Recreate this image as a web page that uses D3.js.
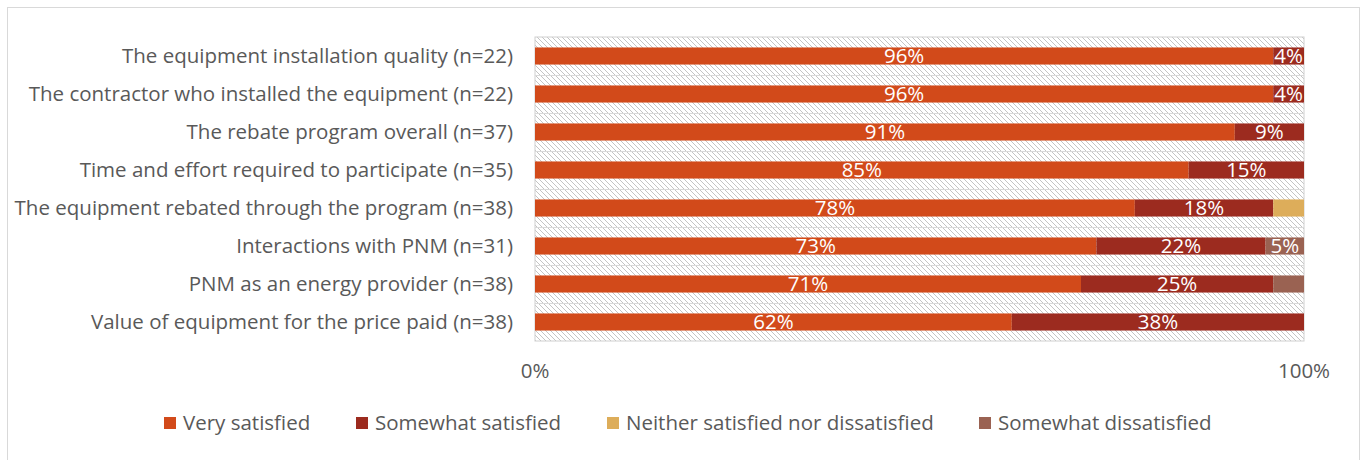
<!DOCTYPE html>
<html>
<head>
<meta charset="utf-8">
<script src="https://cdn.jsdelivr.net/npm/d3@7"></script>
<style>
  body { margin: 0; background: #fff; }
  svg { font-family: "Open Sans", Roboto, sans-serif; }
</style>
</head>
<body>
<svg id="chart" width="1361" height="460"></svg>
<script>
// Categories, top to bottom
const categories = [
  "The equipment installation quality (n=22)",
  "The contractor who installed the equipment (n=22)",
  "The rebate program overall (n=37)",
  "Time and effort required to participate (n=35)",
  "The equipment rebated through the program (n=38)",
  "Interactions with PNM (n=31)",
  "PNM as an energy provider (n=38)",
  "Value of equipment for the price paid (n=38)"
];
const seriesNames = ["Very satisfied", "Somewhat satisfied", "Neither satisfied nor dissatisfied", "Somewhat dissatisfied"];
const verySatisfied = [96, 96, 91, 85, 78, 73, 71, 62];
const somewhatSatisfied = [4, 4, 9, 15, 18, 22, 25, 38];
const neither = [0, 0, 0, 0, 4, 0, 0, 0];
const somewhatDissatisfied = [0, 0, 0, 0, 0, 5, 4, 0];
const tickLabels = ["0%", "100%"];
const colors = ["#d24a1a", "#9c2b1f", "#ddad5a", "#9a6252"];

const svg = d3.select("#chart");
const margin = { left: 535, top: 37, width: 769, height: 304 };
const fontSize = 20.5;

// outer frame
svg.append("rect").attr("x", 7.5).attr("y", 7.5).attr("width", 1352).attr("height", 470)
  .attr("fill", "none").attr("stroke", "#d9d9d9");

// hatch pattern for plot background
const defs = svg.append("defs");
const pat = defs.append("pattern").attr("id", "hatch").attr("patternUnits", "userSpaceOnUse")
  .attr("width", 5).attr("height", 5);
pat.append("rect").attr("width", 5).attr("height", 5).attr("fill", "#fff");
pat.append("path").attr("d", "M0,0 L5,5 M-1,4 L1,6 M4,-1 L6,1")
  .attr("stroke", "#c4c4c4").attr("stroke-width", 1);

const rows = categories.map((c, i) => ({
  cat: c,
  "Very satisfied": verySatisfied[i],
  "Somewhat satisfied": somewhatSatisfied[i],
  "Neither satisfied nor dissatisfied": neither[i],
  "Somewhat dissatisfied": somewhatDissatisfied[i]
}));

const x = d3.scaleLinear().domain([0, 100]).range([margin.left, margin.left + margin.width]);
const y = d3.scaleBand().domain(categories).range([margin.top, margin.top + margin.height])
  .paddingInner(0.55).paddingOuter(0.275);
const color = d3.scaleOrdinal().domain(seriesNames).range(colors);

// plot background
svg.append("rect").attr("x", x(0)).attr("y", margin.top).attr("width", margin.width).attr("height", margin.height)
  .attr("fill", "url(#hatch)").attr("stroke", "#d0d0d0");

// separators between bands
const step = y.step();
svg.append("g").selectAll("line").data(d3.range(1, categories.length)).join("line")
  .attr("x1", x(0)).attr("x2", x(100))
  .attr("y1", d => margin.top + d * step + 0.5).attr("y2", d => margin.top + d * step + 0.5)
  .attr("stroke", "#d9d9d9");

const stacked = d3.stack().keys(seriesNames)(rows);

const groups = svg.append("g").selectAll("g").data(stacked).join("g")
  .attr("fill", d => color(d.key));
groups.selectAll("rect").data(d => d).join("rect")
  .attr("x", d => x(d[0])).attr("width", d => x(d[1]) - x(d[0]))
  .attr("y", d => y(d.data.cat)).attr("height", y.bandwidth());

// value labels (only shown when segment is big enough)
const labelG = svg.append("g").attr("fill", "#fff").attr("font-size", fontSize).attr("text-anchor", "middle");
stacked.forEach(s => {
  s.forEach(d => {
    const v = d[1] - d[0];
    if (v >= 5 || (v >= 4 && s.key === "Somewhat satisfied")) {
      labelG.append("text")
        .attr("x", (x(d[0]) + x(d[1])) / 2)
        .attr("y", y(d.data.cat) + y.bandwidth() / 2)
        .attr("dy", "0.36em")
        .text(v + "%");
    }
  });
});

// category labels
svg.append("g").selectAll("text").data(categories).join("text")
  .attr("x", 513).attr("y", d => y(d) + y.bandwidth() / 2).attr("dy", "0.36em")
  .attr("text-anchor", "end").attr("font-size", fontSize).attr("fill", "#595959")
  .text(d => d);

// x axis tick labels
svg.append("g").selectAll("text").data([0, 100]).join("text")
  .attr("x", d => x(d)).attr("y", 371).attr("dy", "0.36em")
  .attr("text-anchor", "middle").attr("font-size", fontSize).attr("fill", "#595959")
  .text((d, i) => tickLabels[i]);

// legend
const legendX = [164, 356, 607, 979];
const legend = svg.append("g").selectAll("g").data(seriesNames).join("g")
  .attr("transform", (d, i) => `translate(${legendX[i]},423)`);
legend.append("rect").attr("x", 0).attr("y", -6).attr("width", 12).attr("height", 12)
  .attr("fill", d => color(d));
legend.append("text").attr("x", 19).attr("dy", "0.36em").attr("font-size", fontSize).attr("fill", "#595959")
  .text(d => d);
</script>
</body>
</html>
